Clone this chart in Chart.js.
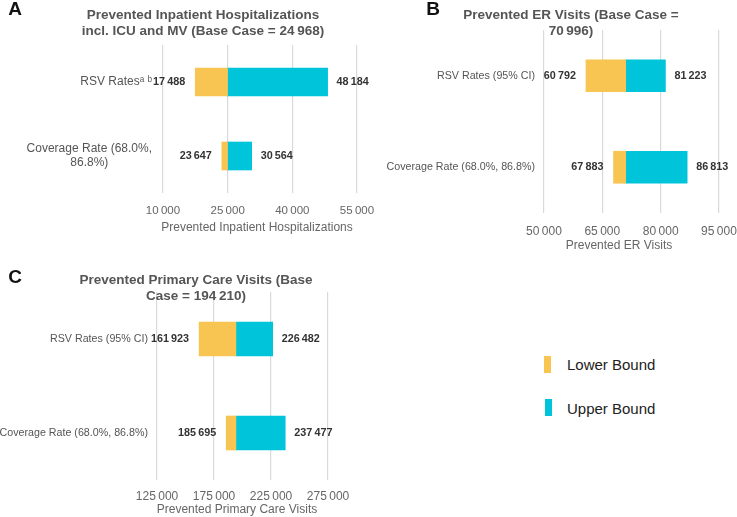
<!DOCTYPE html>
<html>
<head>
<meta charset="utf-8">
<script src="https://cdn.jsdelivr.net/npm/chart.js@4.4.1/dist/chart.umd.min.js"></script>
<style>
  html, body { margin: 0; padding: 0; background: #fff; overflow: hidden; }
  #wrap { position: relative; width: 737px; height: 517px; font-family: "Liberation Sans", Arial, sans-serif; }
  canvas { position: absolute; }
  .key { position: absolute; left: 567px; font-size: 15px; color: #222; line-height: 18px; }
  .swatch { position: absolute; width: 7px; height: 17px; }
</style>
</head>
<body>
<div id="wrap">
  <canvas id="chartA" width="385" height="250" style="left:0;top:0"></canvas>
  <canvas id="chartB" width="367" height="260" style="left:370px;top:0"></canvas>
  <canvas id="chartC" width="370" height="257" style="left:0;top:260px"></canvas>
  <div class="swatch" style="left:544px;top:356px;background:#F8C553"></div>
  <div class="key" style="top:356px">Lower Bound</div>
  <div class="swatch" style="left:545px;top:399px;background:#00C4DA"></div>
  <div class="key" style="top:400px">Upper Bound</div>
</div>
<script>
// Tornado charts: one-way sensitivity of prevented events, three panels

const FONT = '"Liberation Sans", "DejaVu Sans", Arial, sans-serif';
const LOW_COLOR = "#F8C553";
const HIGH_COLOR = "#00C4DA";

// A — inpatient hospitalizations
const inpatientLabels = [["RSV Ratesᵃ ᵇ"], ["Coverage Rate (68.0%,", "86.8%)"]];
const inpatientBase = 24968;
const inpatientLower = [17488, 23647];
const inpatientUpper = [48184, 30564];
const inpatientTicks = [10000, 25000, 40000, 55000];

// B — ER visits
const erLabels = ["RSV Rates (95% CI)", "Coverage Rate (68.0%, 86.8%)"];
const erBase = 70996;
const erLower = [60792, 67883];
const erUpper = [81223, 86813];
const erTicks = [50000, 65000, 80000, 95000];

// C — primary care visits
const pcLabels = ["RSV Rates (95% CI)", "Coverage Rate (68.0%, 86.8%)"];
const pcBase = 194210;
const pcLower = [161923, 185695];
const pcUpper = [226482, 237477];
const pcTicks = [125000, 175000, 225000, 275000];

function fmt(v) {
  return Math.round(v).toLocaleString("en-US").replace(/,/g, "\u2009");
}

// category names left of the plot, multi-line ones centred on their widest line
const sideLabels = {
  id: "sideLabels",
  afterDraw(chart, args, opts) {
    const { ctx, chartArea } = chart;
    const yScale = chart.scales.y;
    ctx.save();
    ctx.font = opts.size + "px " + FONT;
    ctx.fillStyle = "#555";
    ctx.textAlign = "center";
    ctx.textBaseline = "middle";
    chart.data.labels.forEach((label, i) => {
      const lines = [].concat(label);
      const widest = Math.max(...lines.map((l) => ctx.measureText(l).width));
      const cx = chartArea.left - opts.gap - widest / 2;
      const y0 = yScale.getPixelForValue(i) - ((lines.length - 1) * 14) / 2;
      lines.forEach((l, k) => ctx.fillText(l, cx, y0 + k * 14));
    });
    ctx.restore();
  },
};

// bold bound values beside each bar end
const boundLabels = {
  id: "boundLabels",
  afterDatasetsDraw(chart) {
    const { ctx } = chart;
    ctx.save();
    ctx.font = "bold 10.8px " + FONT;
    ctx.fillStyle = "#333";
    ctx.textBaseline = "middle";
    chart.data.datasets.forEach((ds, di) => {
      chart.getDatasetMeta(di).data.forEach((bar, i) => {
        const [a, b] = ds.data[i];
        const left = Math.min(bar.x, bar.base);
        const right = Math.max(bar.x, bar.base);
        if (ds.side === "low") {
          ctx.textAlign = "right";
          ctx.fillText(fmt(a), left - 10, bar.y);
        } else {
          ctx.textAlign = "left";
          ctx.fillText(fmt(b), right + 9, bar.y);
        }
      });
    });
    ctx.restore();
  },
};

// panel letter, title (drawn over the grid, as in the figure) and x-axis title
const panelHeader = {
  id: "panelHeader",
  afterDraw(chart, args, opts) {
    const { ctx } = chart;
    ctx.save();
    ctx.textAlign = "center";
    ctx.textBaseline = "middle";
    ctx.fillStyle = "#555";
    ctx.font = "bold 13.5px " + FONT;
    opts.lines.forEach((l, k) => ctx.fillText(l, opts.x, opts.y + k * 16));
    ctx.fillStyle = "#111";
    ctx.font = "bold 19px " + FONT;
    ctx.fillText(opts.letter, opts.lx, opts.ly);
    ctx.fillStyle = "#666";
    ctx.font = "12px " + FONT;
    ctx.fillText(opts.axisText, opts.ax, opts.ay);
    ctx.restore();
  },
};

function tornado(id, cfg) {
  return new Chart(document.getElementById(id), {
    type: "bar",
    data: {
      labels: cfg.labels,
      datasets: [
        {
          label: "Lower Bound",
          side: "low",
          data: cfg.lower.map((v) => [v, cfg.base]),
          backgroundColor: LOW_COLOR,
          grouped: false,
          barThickness: cfg.thick,
          borderWidth: 0,
        },
        {
          label: "Upper Bound",
          side: "high",
          data: cfg.upper.map((v) => [cfg.base, v]),
          backgroundColor: HIGH_COLOR,
          grouped: false,
          barThickness: cfg.thick,
          borderWidth: 0,
        },
      ],
    },
    options: {
      indexAxis: "y",
      responsive: false,
      animation: false,
      devicePixelRatio: 1,
      layout: { padding: cfg.padding },
      plugins: {
        legend: { display: false },
        title: { display: false },
        tooltip: { enabled: false },
        sideLabels: { gap: cfg.gap, size: cfg.labelSize },
        panelHeader: cfg.header,
      },
      scales: {
        x: {
          type: "linear",
          min: cfg.ticks[0],
          max: cfg.ticks[cfg.ticks.length - 1],
          afterBuildTicks: (s) => {
            s.ticks = cfg.ticks.map((v) => ({ value: v }));
          },
          afterFit: (s) => {
            s.height = cfg.axisHeight;
            s.paddingLeft = 0;
            s.paddingRight = 0;
          },
          grid: { color: "#d9d9d9", drawTicks: false, lineWidth: 1.2 },
          border: { display: false },
          ticks: {
            padding: cfg.tickPad,
            color: "#666",
            font: { family: FONT, size: cfg.tickSize },
            maxRotation: 0,
            autoSkip: false,
            callback: (v) => fmt(v),
          },
          title: { display: false },
        },
        y: {
          type: "category",
          afterFit: (s) => {
            s.width = cfg.yWidth;
            s.paddingTop = 0;
            s.paddingBottom = 0;
          },
          grid: { display: false },
          border: { display: false },
          ticks: { display: false },
        },
      },
    },
    plugins: [sideLabels, boundLabels, panelHeader],
  });
}

tornado("chartA", {
  labels: inpatientLabels,
  base: inpatientBase,
  lower: inpatientLower,
  upper: inpatientUpper,
  ticks: inpatientTicks,
  thick: 28,
  gap: 11,
  labelSize: 12,
  tickSize: 11.5,
  yWidth: 163,
  axisHeight: 42,
  tickPad: 11,
  padding: { top: 45, right: 28, bottom: 15, left: 0 },
  header: {
    lines: ["Prevented Inpatient Hospitalizations", "incl. ICU and MV (Base Case = " + fmt(inpatientBase) + ")"],
    x: 203, y: 15, letter: "A", lx: 15, ly: 10,
    axisText: "Prevented Inpatient Hospitalizations", ax: 257, ay: 228,
  },
});

tornado("chartB", {
  labels: erLabels,
  base: erBase,
  lower: erLower,
  upper: erUpper,
  ticks: erTicks,
  thick: 32,
  gap: 9,
  labelSize: 10.7,
  tickSize: 12,
  yWidth: 174,
  axisHeight: 40,
  tickPad: 11,
  padding: { top: 30, right: 18, bottom: 7, left: 0 },
  header: {
    lines: ["Prevented ER Visits (Base Case =", fmt(erBase) + ")"],
    x: 201, y: 15, letter: "B", lx: 63, ly: 10,
    axisText: "Prevented ER Visits", ax: 249, ay: 246,
  },
});

tornado("chartC", {
  labels: pcLabels,
  base: pcBase,
  lower: pcLower,
  upper: pcUpper,
  ticks: pcTicks,
  thick: 34,
  gap: 9,
  labelSize: 10.7,
  tickSize: 12,
  yWidth: 157,
  axisHeight: 37,
  tickPad: 9,
  padding: { top: 32, right: 42, bottom: 0, left: 0 },
  header: {
    lines: ["Prevented Primary Care Visits (Base", "Case = " + fmt(pcBase) + ")"],
    x: 196, y: 20, letter: "C", lx: 15, ly: 18,
    axisText: "Prevented Primary Care Visits", ax: 237, ay: 250,
  },
});
</script>
</body>
</html>
